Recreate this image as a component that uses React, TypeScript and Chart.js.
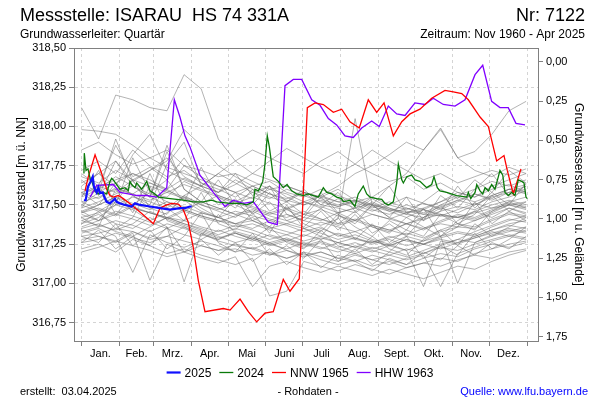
import React, { useEffect, useRef } from 'react';
import { Chart, registerables } from 'chart.js';

Chart.register(...registerables);

const FONT = '"Liberation Sans", Arial, Helvetica, sans-serif';

const TITLE = 'Messstelle: ISARAU  HS 74 331A';
const STATION_NR = 'Nr: 7122';
const AQUIFER = 'Grundwasserleiter: Quartär';
const PERIOD = 'Zeitraum: Nov 1960 - Apr 2025';
const CREATED = 'erstellt:  03.04.2025';
const RAW_NOTE = '- Rohdaten -';
const SOURCE = 'Quelle: www.lfu.bayern.de';
const LEFT_TITLE = 'Grundwasserstand [m ü. NN]';
const RIGHT_TITLE = 'Grundwasserstand [m u. Gelände]';

const X_MIN = -6.14;
const X_MAX = 373.75;
const Y_MIN = 316.633;
const Y_MAX = 318.5;
const GROUND_LEVEL = 318.411;

const MONTH_LABELS = ['Jan.', 'Feb.', 'Mrz.', 'Apr.', 'Mai', 'Juni', 'Juli', 'Aug.', 'Sept.', 'Okt.', 'Nov.', 'Dez.'];
const MONTH_STARTS = [0, 31, 59, 90, 120, 151, 181, 212, 243, 273, 304, 334, 365];
const LEFT_TICKS = [316.75, 317.0, 317.25, 317.5, 317.75, 318.0, 318.25, 318.5];
const RIGHT_TICKS = [0, 0.25, 0.5, 0.75, 1.0, 1.25, 1.5, 1.75];

const SERIES_LABELS = ['2025', '2024', 'NNW 1965', 'HHW 1963'];
const SERIES_COLORS = ['#1010ff', '#0a7a0a', '#ff0000', '#8000ff'];
const SERIES_WIDTHS = [2.2, 1.3, 1.3, 1.3];

const Y2025_DAYS = [2.0, 3.4, 5.3, 7.5, 9.2, 10.2, 12.4, 13.8, 15.1, 17.4, 18.7, 20.6, 23.3, 27.4, 28.8, 31.5, 35.6, 41.1, 43.8, 47.9, 56.1, 64.3, 72.5, 80.6, 84.7, 88.8, 90.2];
const Y2025_LEVELS = [317.53, 317.53, 317.615, 317.65, 317.68, 317.615, 317.58, 317.61, 317.575, 317.58, 317.55, 317.52, 317.51, 317.54, 317.52, 317.51, 317.50, 317.49, 317.51, 317.50, 317.49, 317.48, 317.47, 317.48, 317.48, 317.49, 317.49];

const Y2024_DAYS = [2.0, 2.3, 3.7, 5.3, 7.0, 8.4, 11.1, 13.8, 17.8, 20.6, 23.3, 24.7, 26.0, 28.8, 31.5, 35.6, 38.3, 39.7, 41.1, 43.8, 45.2, 49.3, 53.4, 56.1, 60.2, 62.9, 72.5, 83.3, 91.5, 99.7, 106.6, 110.7, 121.6, 129.8, 135.3, 138.0, 140.7, 142.0, 144.8, 146.1, 148.4, 150.2, 152.1, 153.8, 157.0, 161.1, 165.2, 168.3, 172.1, 176.2, 181.6, 185.7, 189.8, 193.9, 198.0, 200.8, 204.8, 208.9, 213.0, 214.3, 219.8, 223.9, 226.6, 230.7, 233.5, 236.2, 241.7, 245.8, 248.5, 251.2, 255.3, 258.1, 259.4, 262.2, 263.5, 266.3, 270.3, 273.1, 277.1, 282.6, 286.7, 288.6, 291.3, 293.5, 299.0, 307.2, 315.4, 316.7, 318.7, 322.2, 323.6, 326.3, 328.5, 330.4, 333.1, 335.8, 338.5, 341.3, 342.6, 344.9, 346.7, 349.4, 352.2, 354.9, 357.6, 360.4, 362.3, 363.9, 365.0];
const Y2024_LEVELS = [317.70, 317.83, 317.72, 317.73, 317.67, 317.65, 317.59, 317.57, 317.58, 317.57, 317.65, 317.67, 317.66, 317.63, 317.60, 317.61, 317.59, 317.65, 317.63, 317.61, 317.64, 317.60, 317.65, 317.59, 317.57, 317.55, 317.54, 317.53, 317.52, 317.52, 317.53, 317.52, 317.51, 317.51, 317.50, 317.51, 317.52, 317.60, 317.59, 317.61, 317.65, 317.76, 317.94, 317.87, 317.68, 317.65, 317.61, 317.63, 317.59, 317.57, 317.56, 317.57, 317.56, 317.55, 317.61, 317.58, 317.57, 317.55, 317.54, 317.52, 317.53, 317.49, 317.57, 317.62, 317.57, 317.55, 317.54, 317.535, 317.51, 317.50, 317.52, 317.64, 317.76, 317.66, 317.64, 317.68, 317.69, 317.66, 317.65, 317.61, 317.63, 317.68, 317.61, 317.59, 317.58, 317.56, 317.55, 317.58, 317.54, 317.58, 317.63, 317.59, 317.57, 317.61, 317.59, 317.63, 317.60, 317.68, 317.72, 317.69, 317.58, 317.56, 317.58, 317.56, 317.66, 317.65, 317.64, 317.55, 317.54];

const NNW1965_DAYS = [2.9, 5.6, 11.1, 16.5, 20.6, 23.3, 26.0, 30.1, 34.2, 41.1, 49.3, 58.8, 64.3, 69.8, 73.8, 79.3, 83.3, 87.4, 91.5, 95.6, 101.1, 116.1, 121.6, 129.8, 136.6, 143.4, 150.2, 157.0, 165.2, 170.7, 178.3, 184.9, 191.2, 198.0, 206.2, 213.0, 219.8, 227.4, 234.8, 241.7, 247.7, 255.3, 262.2, 269.0, 277.1, 286.7, 297.6, 304.4, 311.3, 316.7, 326.3, 333.1, 339.9, 345.9, 348.6, 353.5, 356.3, 359.8];
const NNW1965_LEVELS = [317.59, 317.68, 317.82, 317.70, 317.60, 317.56, 317.55, 317.56, 317.54, 317.50, 317.445, 317.38, 317.48, 317.50, 317.51, 317.505, 317.47, 317.39, 317.23, 317.02, 316.82, 316.84, 316.83, 316.90, 316.82, 316.755, 316.81, 316.82, 317.025, 316.95, 317.03, 318.12, 318.15, 318.14, 318.09, 318.11, 318.03, 317.99, 318.17, 318.09, 318.15, 317.94, 318.03, 318.08, 318.11, 318.18, 318.23, 318.22, 318.21, 318.17, 318.06, 318.00, 317.78, 317.815, 317.72, 317.57, 317.64, 317.73];

const HHW1963_DAYS = [7.0, 12.4, 26.0, 31.5, 38.3, 45.2, 53.4, 61.6, 69.8, 76.0, 80.6, 84.7, 88.8, 97.0, 107.9, 117.5, 124.3, 132.5, 140.7, 152.9, 160.3, 166.6, 173.4, 180.3, 188.5, 195.3, 202.1, 208.9, 215.7, 222.5, 229.4, 237.6, 243.8, 251.2, 258.1, 264.9, 273.0, 281.2, 288.0, 296.2, 305.8, 314.0, 322.2, 328.5, 335.8, 342.6, 349.4, 355.7, 363.1];
const HHW1963_LEVELS = [317.55, 317.625, 317.63, 317.58, 317.57, 317.56, 317.56, 317.55, 317.61, 318.17, 318.06, 317.94, 317.87, 317.69, 317.58, 317.49, 317.53, 317.51, 317.52, 317.39, 317.375, 318.26, 318.30, 318.30, 318.17, 318.135, 318.05, 318.01, 317.94, 317.93, 317.99, 318.035, 318.00, 318.13, 318.08, 318.07, 318.15, 318.14, 318.18, 318.14, 318.13, 318.17, 318.33, 318.39, 318.16, 318.12, 318.12, 318.02, 318.01];

// Other years of record (m ü. NN), sampled every two weeks
const HIST_DAYS = [0, 14, 28, 42, 56, 70, 84, 98, 112, 126, 140, 154, 168, 182, 196, 210, 224, 238, 252, 266, 280, 294, 308, 322, 336, 350, 364];
const HIST_LEVELS: number[][] = [
  [318.12, 317.92, 318.20, 318.17, 318.12, 318.10, 318.33, 318.24, 317.92, 317.78, 317.70, 317.66, 317.62, 317.58, 317.55, 317.60, 317.53, 317.50, 317.47, 317.46, 317.44, 317.43, 317.42, 317.45, 317.48, 317.50, 317.52],
  [317.98, 317.97, 317.95, 317.88, 317.80, 317.85, 317.75, 317.72, 317.68, 317.70, 317.65, 317.60, 317.62, 317.58, 317.55, 317.52, 317.55, 317.50, 317.48, 317.45, 317.47, 317.44, 317.42, 317.40, 317.45, 317.50, 317.48],
  [317.45, 317.50, 317.55, 317.48, 317.45, 317.42, 317.40, 317.45, 317.42, 317.38, 317.40, 317.35, 317.38, 317.42, 317.40, 317.45, 317.48, 317.55, 317.62, 317.70, 317.85, 317.98, 317.80, 317.84, 317.95, 318.10, 318.16],
  [317.62, 317.70, 317.78, 317.65, 317.72, 317.80, 317.68, 317.62, 317.58, 317.66, 317.60, 317.55, 317.52, 317.58, 317.50, 317.48, 317.45, 317.52, 317.47, 317.44, 317.42, 317.48, 317.45, 317.50, 317.55, 317.58, 317.60],
  [317.45, 317.48, 317.44, 317.50, 317.58, 317.52, 317.47, 317.43, 317.40, 317.38, 317.42, 317.36, 317.33, 317.30, 317.35, 317.31, 317.28, 317.26, 317.30, 317.27, 317.25, 317.29, 317.32, 317.30, 317.34, 317.38, 317.40],
  [317.30, 317.32, 317.35, 317.33, 317.28, 317.30, 317.36, 317.32, 317.27, 317.24, 317.22, 317.26, 317.21, 317.18, 317.20, 317.16, 317.14, 317.18, 317.15, 317.12, 317.16, 317.19, 317.17, 317.22, 317.25, 317.23, 317.26],
  [317.55, 317.60, 317.68, 317.62, 317.57, 317.55, 317.65, 317.60, 317.56, 317.52, 317.58, 317.62, 317.55, 317.50, 317.53, 317.49, 317.52, 317.47, 317.44, 317.48, 317.45, 317.50, 317.55, 317.52, 317.56, 317.60, 317.58],
  [317.38, 317.42, 317.50, 317.47, 317.40, 317.45, 317.55, 317.48, 317.42, 317.38, 317.35, 317.40, 317.37, 317.33, 317.36, 317.30, 317.33, 317.28, 317.25, 317.30, 317.27, 317.33, 317.36, 317.35, 317.40, 317.44, 317.42],
  [317.22, 317.25, 317.20, 317.28, 317.24, 317.19, 317.22, 317.18, 317.15, 317.12, 317.16, 316.92, 316.95, 317.14, 317.11, 317.08, 317.12, 317.09, 317.06, 317.10, 317.13, 317.11, 317.15, 317.18, 317.16, 317.20, 317.22],
  [317.72, 317.78, 317.70, 317.85, 317.75, 317.68, 317.72, 317.64, 317.60, 317.55, 317.62, 317.57, 317.53, 317.50, 317.56, 317.52, 317.48, 317.51, 317.46, 317.42, 317.47, 317.52, 317.58, 317.55, 317.62, 317.66, 317.70],
  [317.48, 317.52, 317.57, 317.62, 317.55, 317.50, 317.46, 317.52, 317.48, 317.44, 317.40, 317.45, 317.42, 317.46, 317.41, 317.37, 317.40, 317.36, 317.33, 317.38, 317.34, 317.39, 317.43, 317.41, 317.46, 317.50, 317.47],
  [317.35, 317.38, 317.33, 317.30, 317.36, 317.42, 317.38, 317.34, 317.30, 317.26, 317.29, 317.25, 317.22, 317.26, 317.23, 317.20, 317.24, 317.21, 317.18, 317.22, 317.19, 317.24, 317.28, 317.26, 317.31, 317.34, 317.32],
  [317.60, 317.58, 317.64, 317.70, 317.66, 317.60, 317.75, 317.68, 317.62, 317.58, 317.54, 317.60, 317.57, 317.52, 317.48, 317.54, 317.50, 317.46, 317.50, 317.55, 317.51, 317.47, 317.52, 317.57, 317.53, 317.58, 317.62],
  [317.28, 317.30, 317.26, 317.32, 317.02, 317.25, 317.20, 317.24, 317.21, 317.22, 317.18, 317.20, 317.16, 317.19, 317.15, 317.12, 317.15, 317.11, 317.14, 317.10, 317.13, 317.16, 317.14, 317.19, 317.22, 317.25, 317.27],
  [317.40, 317.44, 317.38, 317.35, 317.42, 317.36, 317.01, 317.32, 317.28, 317.33, 317.30, 317.26, 317.29, 317.25, 317.22, 317.26, 317.23, 317.20, 317.24, 317.21, 317.25, 317.28, 317.26, 317.30, 317.34, 317.37, 317.35],
  [317.50, 317.46, 317.52, 317.48, 317.45, 317.42, 317.47, 317.43, 317.40, 317.36, 317.38, 317.34, 317.31, 317.35, 317.32, 317.28, 317.31, 317.27, 317.24, 317.28, 317.25, 317.30, 317.33, 317.31, 317.36, 317.40, 317.43],
  [317.42, 317.45, 317.50, 317.55, 317.52, 317.48, 317.56, 317.62, 317.70, 317.78, 317.85, 317.80, 317.75, 317.70, 317.78, 317.84, 317.76, 317.70, 317.65, 317.68, 317.60, 317.64, 317.58, 317.55, 317.60, 317.63, 317.58],
  [317.33, 317.36, 317.40, 317.37, 317.33, 317.38, 317.35, 317.31, 317.28, 317.32, 317.29, 317.25, 317.28, 317.24, 317.27, 317.23, 317.26, 317.22, 317.25, 317.21, 316.98, 317.27, 317.25, 317.29, 317.32, 317.35, 317.33],
  [317.26, 317.28, 317.32, 317.29, 317.26, 317.30, 317.27, 317.24, 317.21, 317.25, 317.22, 317.18, 317.21, 317.17, 317.20, 317.16, 317.19, 317.15, 317.18, 317.15, 317.18, 316.98, 317.19, 317.23, 317.27, 317.30, 317.28],
  [317.36, 317.40, 317.44, 317.41, 317.37, 317.42, 317.38, 317.35, 317.31, 317.35, 317.32, 317.28, 317.31, 317.27, 317.30, 317.26, 317.29, 317.25, 317.28, 317.24, 317.27, 317.30, 317.00, 317.26, 317.30, 317.33, 317.36],
  [317.56, 317.62, 317.58, 317.66, 317.72, 317.78, 317.98, 317.88, 317.75, 317.68, 317.62, 317.65, 317.58, 317.55, 317.60, 317.56, 317.52, 317.55, 317.50, 317.47, 317.51, 317.48, 317.53, 317.57, 317.54, 317.60, 317.63],
  [317.20, 317.23, 317.27, 317.24, 317.21, 317.17, 317.20, 317.16, 317.13, 317.17, 316.98, 317.11, 317.14, 317.10, 317.07, 317.11, 317.08, 317.05, 317.09, 317.06, 317.03, 317.07, 317.11, 317.09, 317.14, 317.18, 317.21],
  [317.46, 317.50, 317.55, 317.51, 317.47, 317.52, 317.49, 317.45, 317.42, 317.46, 317.43, 317.40, 317.44, 317.40, 317.37, 317.41, 318.05, 317.50, 317.42, 317.38, 317.41, 317.44, 317.42, 317.46, 317.50, 317.53, 317.50],
  [317.52, 317.55, 317.60, 317.57, 317.53, 317.58, 317.54, 317.50, 317.47, 317.51, 317.48, 317.44, 317.47, 317.52, 317.56, 317.62, 317.70, 317.75, 317.82, 317.90, 317.85, 317.99, 317.80, 317.72, 317.68, 317.74, 317.70],
  [317.68, 317.64, 317.72, 317.66, 317.62, 317.58, 317.63, 317.59, 317.55, 317.51, 317.55, 317.51, 317.48, 317.52, 317.49, 317.45, 317.48, 317.44, 317.41, 317.45, 317.48, 317.52, 317.56, 317.60, 317.65, 317.62, 317.66],
  [317.40, 317.37, 317.34, 317.38, 317.46, 317.41, 317.37, 317.33, 317.29, 317.32, 317.28, 317.24, 317.27, 317.23, 317.26, 317.22, 317.19, 317.23, 317.20, 317.17, 317.21, 317.25, 317.28, 317.33, 317.37, 317.41, 317.39],
  [317.85, 317.90, 317.82, 317.76, 317.80, 317.74, 317.70, 317.66, 317.62, 317.58, 317.62, 317.57, 317.54, 317.58, 317.54, 317.50, 317.53, 317.49, 317.46, 317.50, 317.47, 317.43, 317.47, 317.51, 317.48, 317.52, 317.55],
  [317.44, 317.40, 317.46, 317.43, 317.39, 317.35, 317.40, 317.36, 317.33, 317.37, 317.34, 317.30, 317.27, 317.31, 317.28, 317.32, 317.29, 317.26, 317.29, 317.32, 317.29, 317.34, 317.38, 317.36, 317.41, 317.45, 317.43],
  [317.58, 317.62, 317.66, 317.70, 317.64, 317.60, 317.67, 317.62, 317.58, 317.63, 317.70, 317.78, 317.86, 317.80, 317.74, 317.70, 317.76, 317.85, 317.78, 317.72, 317.66, 317.70, 317.64, 317.68, 317.72, 317.69, 317.73],
  [317.32, 317.35, 317.30, 317.07, 317.31, 317.26, 317.23, 317.27, 317.24, 317.20, 317.23, 317.19, 317.16, 317.20, 317.17, 317.14, 317.18, 317.15, 317.12, 317.16, 317.19, 317.23, 317.21, 317.25, 317.28, 317.31, 317.29],
  [317.50, 317.58, 317.92, 317.65, 317.55, 317.88, 317.60, 317.52, 317.48, 317.44, 317.47, 317.43, 317.40, 317.44, 317.41, 317.38, 317.41, 317.37, 317.34, 317.38, 317.35, 317.40, 317.44, 317.42, 317.47, 317.51, 317.49],
  [317.64, 317.70, 317.62, 317.82, 317.95, 317.72, 317.66, 317.62, 317.70, 317.64, 317.58, 317.54, 317.60, 317.56, 317.52, 317.49, 317.53, 317.48, 317.52, 317.48, 317.44, 317.49, 317.53, 317.50, 317.56, 317.60, 317.57],
  [317.52, 317.47, 317.43, 317.49, 317.45, 317.41, 317.46, 317.42, 317.39, 317.43, 317.46, 317.41, 317.38, 317.35, 317.39, 317.36, 317.33, 317.37, 317.34, 317.31, 317.35, 317.38, 317.36, 317.40, 317.44, 317.48, 317.45],
  [317.58, 317.54, 317.61, 317.57, 317.64, 317.59, 317.55, 317.51, 317.56, 317.52, 317.49, 317.45, 317.48, 317.44, 317.47, 317.43, 317.40, 317.44, 317.41, 317.38, 317.42, 317.46, 317.49, 317.47, 317.52, 317.55, 317.59],
  [317.34, 317.30, 317.27, 317.33, 317.29, 317.35, 317.31, 317.28, 317.34, 317.30, 317.27, 317.31, 317.28, 317.25, 317.29, 317.26, 317.23, 317.27, 317.24, 317.28, 317.25, 317.22, 317.26, 317.29, 317.33, 317.30, 317.34],
  [317.55, 317.72, 317.50, 317.80, 317.58, 317.66, 317.52, 317.74, 317.55, 317.48, 317.60, 317.46, 317.52, 317.44, 317.58, 317.45, 317.40, 317.50, 317.42, 317.55, 317.40, 317.46, 317.62, 317.48, 317.58, 317.50, 317.64],
  [317.42, 317.36, 317.60, 317.45, 317.70, 317.48, 317.40, 317.58, 317.38, 317.34, 317.45, 317.32, 317.50, 317.35, 317.30, 317.42, 317.28, 317.38, 317.26, 317.34, 317.48, 317.30, 317.36, 317.52, 317.38, 317.46, 317.40],
  [317.66, 317.56, 317.78, 317.62, 317.55, 317.84, 317.60, 317.52, 317.66, 317.50, 317.45, 317.58, 317.47, 317.42, 317.55, 317.44, 317.38, 317.50, 317.62, 317.45, 317.40, 317.56, 317.48, 317.60, 317.70, 317.56, 317.62],
  [317.30, 317.26, 317.38, 317.24, 317.34, 317.22, 317.30, 317.45, 317.26, 317.20, 317.32, 317.18, 317.24, 317.16, 317.28, 317.14, 317.22, 317.12, 317.20, 317.30, 317.16, 317.24, 317.18, 317.32, 317.22, 317.28, 317.36],
  [317.48, 317.62, 317.44, 317.56, 317.50, 317.76, 317.90, 317.62, 317.50, 317.58, 317.44, 317.52, 317.40, 317.36, 317.46, 317.34, 317.44, 317.32, 317.38, 317.30, 317.42, 317.50, 317.38, 317.44, 317.56, 317.46, 317.52],
  [317.58, 317.50, 317.64, 317.56, 317.48, 317.60, 317.53, 317.46, 317.42, 317.54, 317.40, 317.36, 317.48, 317.38, 317.33, 317.44, 317.36, 317.30, 317.40, 317.34, 317.30, 317.44, 317.38, 317.34, 317.46, 317.52, 317.48],
  [317.38, 317.46, 317.35, 317.42, 317.62, 317.40, 317.36, 317.30, 317.44, 317.32, 317.28, 317.36, 317.26, 317.22, 317.34, 317.24, 317.20, 317.30, 317.22, 317.18, 317.28, 317.34, 317.24, 317.38, 317.30, 317.36, 317.42],
  [317.70, 317.62, 317.88, 317.68, 317.74, 317.66, 317.80, 317.64, 317.58, 317.70, 317.56, 317.62, 317.52, 317.60, 317.50, 317.58, 317.46, 317.54, 317.48, 317.44, 317.52, 317.60, 317.54, 317.66, 317.58, 317.72, 317.64],
  [317.26, 317.34, 317.22, 317.30, 317.24, 317.36, 317.20, 317.28, 317.18, 317.26, 317.14, 317.22, 317.12, 317.20, 317.10, 317.18, 317.14, 317.08, 317.16, 317.12, 317.20, 317.15, 317.24, 317.18, 317.26, 317.22, 317.30],
  [317.46, 317.40, 317.52, 317.66, 317.48, 317.44, 317.56, 317.50, 317.46, 317.42, 317.50, 317.62, 317.44, 317.40, 317.48, 317.38, 317.46, 317.36, 317.32, 317.42, 317.36, 317.30, 317.40, 317.46, 317.42, 317.48, 317.44],
];

function toPoints(days: number[], levels: number[]) {
  return days.map((d, i) => ({ x: d, y: levels[i] }));
}

const fmt = (v: number) => v.toFixed(2).replace('.', ',');

const decorPlugin = {
  id: 'decor',
  afterDraw(chart: any) {
    const { ctx, chartArea: a } = chart;
    ctx.save();
    ctx.strokeStyle = '#808080';
    ctx.lineWidth = 1;
    ctx.beginPath();
    ctx.moveTo(a.left, Math.round(a.top) + 0.5);
    ctx.lineTo(a.right, Math.round(a.top) + 0.5);
    ctx.stroke();

    ctx.fillStyle = '#000';
    ctx.textBaseline = 'alphabetic';
    ctx.font = `18px ${FONT}`;
    ctx.textAlign = 'left';
    ctx.fillText(TITLE, 20, 21);
    ctx.textAlign = 'right';
    ctx.fillText(STATION_NR, 585, 21);
    ctx.font = `12px ${FONT}`;
    ctx.textAlign = 'left';
    ctx.fillText(AQUIFER, 20, 38);
    ctx.textAlign = 'right';
    ctx.fillText(PERIOD, 585, 38);

    ctx.font = `12px ${FONT}`;
    const lineLen = 14, gapText = 4, gapItem = 8;
    const items = chart.data.datasets.slice(0, SERIES_LABELS.length);
    let total = 0;
    items.forEach((ds: any, i: number) => {
      total += lineLen + gapText + ctx.measureText(ds.label).width + (i < items.length - 1 ? gapItem : 0);
    });
    let x = 300 - total / 2;
    const ly = 372.5;
    items.forEach((ds: any) => {
      ctx.strokeStyle = ds.borderColor;
      ctx.lineWidth = ds.borderWidth;
      ctx.beginPath();
      ctx.moveTo(x, ly);
      ctx.lineTo(x + lineLen, ly);
      ctx.stroke();
      x += lineLen + gapText;
      ctx.fillStyle = '#000';
      ctx.textAlign = 'left';
      ctx.fillText(ds.label, x, 376.5);
      x += ctx.measureText(ds.label).width + gapItem;
    });

    ctx.font = `11px ${FONT}`;
    ctx.fillStyle = '#000';
    ctx.textAlign = 'left';
    ctx.fillText(CREATED, 20, 394.5);
    ctx.textAlign = 'center';
    ctx.fillText(RAW_NOTE, 308, 394.5);
    ctx.fillStyle = '#0000ff';
    ctx.textAlign = 'right';
    ctx.fillText(SOURCE, 588, 394.5);
    ctx.restore();
  },
};

export default function App() {
  const ref = useRef<HTMLCanvasElement>(null);

  useEffect(() => {
    const canvas = ref.current;
    if (!canvas) return;
    Chart.defaults.font.family = FONT;

    const highlight = [
      toPoints(Y2025_DAYS, Y2025_LEVELS),
      toPoints(Y2024_DAYS, Y2024_LEVELS),
      toPoints(NNW1965_DAYS, NNW1965_LEVELS),
      toPoints(HHW1963_DAYS, HHW1963_LEVELS),
    ].map((data, i) => ({
      label: SERIES_LABELS[i],
      data,
      borderColor: SERIES_COLORS[i],
      backgroundColor: SERIES_COLORS[i],
      borderWidth: SERIES_WIDTHS[i],
      pointRadius: 0,
      tension: 0,
      fill: false,
    }));

    const history = HIST_LEVELS.map((levels, i) => ({
      label: `hist${i}`,
      data: toPoints(HIST_DAYS, levels),
      borderColor: 'rgba(105,105,105,0.5)',
      borderWidth: 1,
      pointRadius: 0,
      tension: 0,
      fill: false,
    }));

    const chart = new Chart(canvas, {
      type: 'line',
      data: { datasets: [...highlight, ...history] as any },
      options: {
        animation: false,
        responsive: false,
        events: [],
        layout: { padding: { left: 0, right: 0, top: 48, bottom: 36 } },
        plugins: {
          legend: { display: false },
          tooltip: { enabled: false },
          title: { display: false },
        },
        scales: {
          x: {
            type: 'linear',
            position: 'bottom',
            weight: 0,
            min: X_MIN,
            max: X_MAX,
            afterBuildTicks: (s: any) => { s.ticks = MONTH_STARTS.map((v) => ({ value: v })); },
            afterFit: (s: any) => { s.height = 5; },
            ticks: { display: false },
            grid: { color: '#d4d4d4', tickColor: '#808080', tickLength: 5, tickBorderDash: [] },
            border: { color: '#808080', width: 1, dash: [3, 3] },
          },
          xl: {
            type: 'linear',
            position: 'bottom',
            weight: 1,
            min: X_MIN,
            max: X_MAX,
            afterBuildTicks: (s: any) => {
              s.ticks = MONTH_STARTS.slice(0, 12).map((v, i) => ({ value: (v + MONTH_STARTS[i + 1]) / 2 }));
            },
            afterFit: (s: any) => { s.height = 18; },
            ticks: {
              autoSkip: false,
              maxRotation: 0,
              padding: 1,
              color: '#000',
              font: { size: 11 },
              callback: (_v: any, i: number) => MONTH_LABELS[i],
            },
            grid: { display: false, drawTicks: false },
            border: { display: false },
          },
          y: {
            type: 'linear',
            position: 'left',
            min: Y_MIN,
            max: Y_MAX,
            afterBuildTicks: (s: any) => { s.ticks = LEFT_TICKS.map((v) => ({ value: v })); },
            afterFit: (s: any) => { s.width = 74; },
            ticks: { color: '#000', font: { size: 11 }, padding: 3, callback: (v: any) => fmt(Number(v)) },
            grid: { color: '#d4d4d4', tickColor: '#808080', tickLength: 5, tickBorderDash: [] },
            border: { color: '#808080', width: 1, dash: [3, 3] },
            title: { display: true, text: LEFT_TITLE, color: '#000', font: { size: 12 }, padding: { top: 14, bottom: 0 } },
          },
          y2: {
            type: 'linear',
            position: 'right',
            reverse: true,
            min: GROUND_LEVEL - Y_MAX,
            max: GROUND_LEVEL - Y_MIN,
            afterBuildTicks: (s: any) => { s.ticks = RIGHT_TICKS.map((v) => ({ value: v })); },
            afterFit: (s: any) => { s.width = 62; },
            ticks: { color: '#000', font: { size: 11 }, padding: 3, callback: (v: any) => fmt(Number(v)) },
            grid: { drawOnChartArea: false, tickColor: '#808080', tickLength: 5, tickBorderDash: [] },
            border: { color: '#808080', width: 1 },
            title: { display: true, text: RIGHT_TITLE, color: '#000', font: { size: 12 }, padding: { top: 14, bottom: 0 } },
          },
        },
      } as any,
      plugins: [decorPlugin],
    });

    return () => chart.destroy();
  }, []);

  return (
    <div style={{ position: 'absolute', left: 0, top: 0, width: 600, height: 400, background: '#fff' }}>
      <canvas ref={ref} width={600} height={400} style={{ display: 'block', width: 600, height: 400 }} />
    </div>
  );
}
